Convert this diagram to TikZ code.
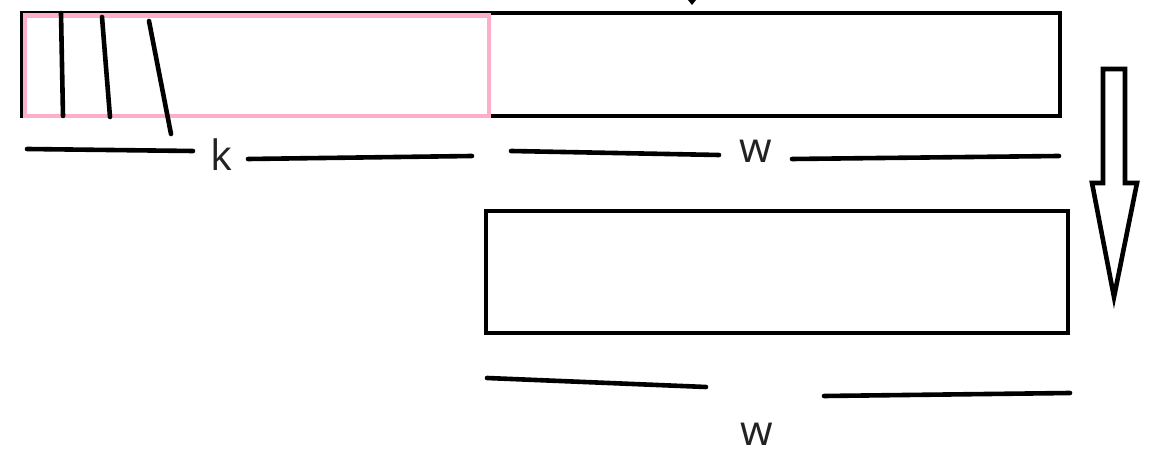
\documentclass[tikz,border=0pt]{standalone}
\usepackage{fontspec}
\setmainfont{Open Sans}
\definecolor{rose}{RGB}{255,174,201}
\definecolor{ink}{RGB}{34,34,34}
\tikzset{
  pen/.style={line width=4.6bp, line cap=round, black},
  box/.style={line width=4.6bp, black},
  pinkbox/.style={line width=4.2bp, rose},
  lbl/.style={inner sep=0pt, text=ink, font=\fontsize{42}{50}\selectfont},
}
\begin{document}
\begin{tikzpicture}[x=1bp,y=-1bp]
\useasboundingbox (0,0) rectangle (1176,469);
% top bar
\draw[box] (22,13) rectangle (1060,116);
\draw[pinkbox] (25,15.5) rectangle (489,116);
% strokes inside
\draw[pen] (61,13) -- (63,116);
\draw[pen] (102,17) -- (110,117);
\draw[pen] (149,21) -- (171,134);
% dimension marks under top bar
\draw[pen] (27,149) -- (193,151);
\node[lbl] (k) at (221,155) {k};
\draw[pen] (248,159) -- (472,156);
\draw[pen] (511,151) -- (719,155);
\node[lbl] (w1) at (756,151) {w};
\draw[pen] (792,159) -- (1059,156);
% small mark at top
\fill[black] (688,0) -- (696,0) -- (692,5) -- cycle;
% bottom bar
\draw[box] (486,211) rectangle (1068,333);
\draw[pen] (487,378) -- (706,387);
\draw[pen] (824,396) -- (1070,393);
\node[lbl] (w2) at (757,434) {w};
% big down arrow
\draw[line width=4.6bp, line join=miter] (1103,69) -- (1125,69) -- (1125,183) -- (1137,183) -- (1114,297) -- (1092,183) -- (1103,183) -- cycle;
\end{tikzpicture}
\end{document}
